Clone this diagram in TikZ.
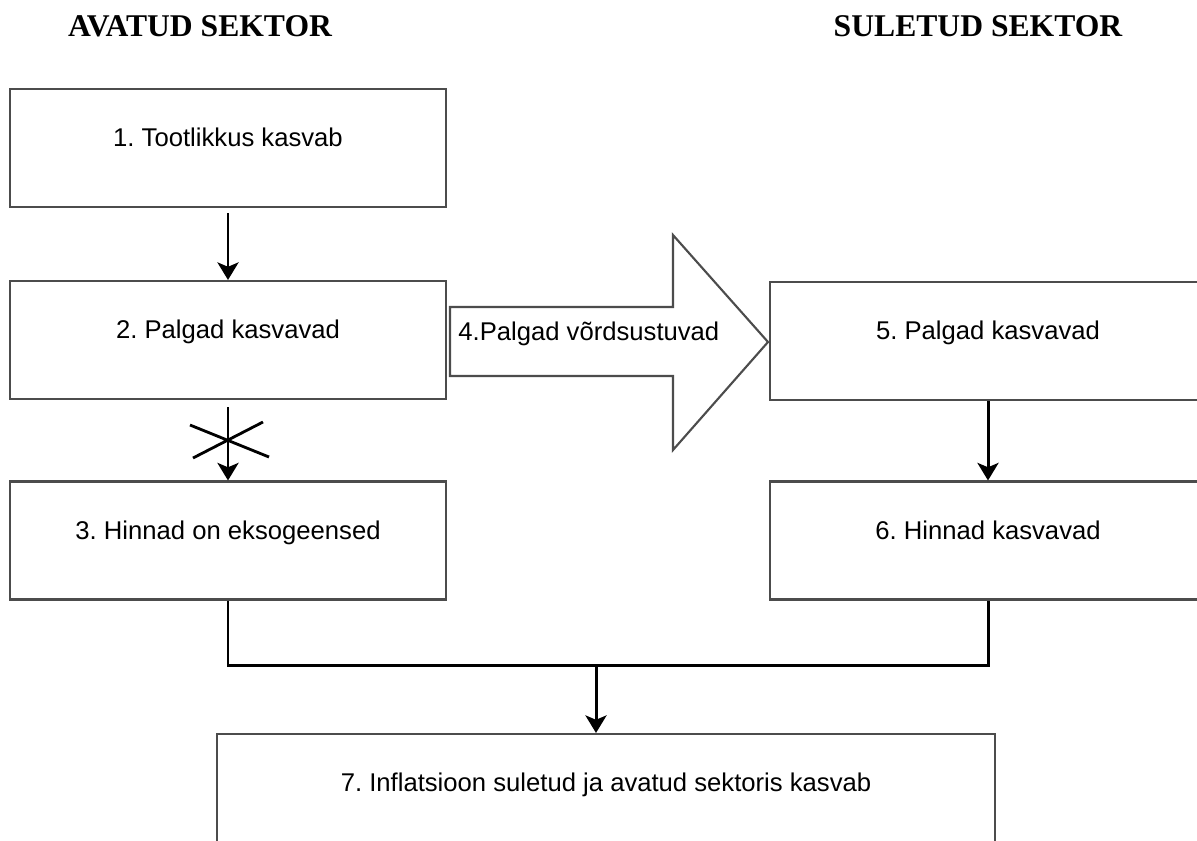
\documentclass[tikz,border=0pt]{standalone}
\usepackage{fontspec}
\setmainfont{Liberation Serif}
\setsansfont{Liberation Sans}
\usetikzlibrary{arrows.meta}
\frenchspacing

\tikzset{
  kast/.style={draw=black!70, line width=1.2pt, minimum width=8.72cm, minimum height=2.36cm,
    font=\sffamily\fontsize{14.6}{17}\selectfont, text height=10pt, text depth=11.5pt},
  nool/.style={draw=black, line width=1.7pt, -{Stealth[length=10pt,width=12pt,inset=2.5pt]}},
  joon/.style={draw=black, line width=1.7pt},
  pealkiri/.style={font=\bfseries\fontsize{18}{21}\selectfont}
}

\begin{document}
\begin{tikzpicture}[x=0.02cm, y=-0.02cm]

\clip (0,0) rectangle (1197,840);
\fill[white] (0,0) rectangle (1197,840);

% Pealkirjad
\node[pealkiri] (avatud) at (200,26) {AVATUD SEKTOR};
\node[pealkiri] (suletud) at (978,26) {SULETUD SEKTOR};

% Avatud sektor
\node[kast] (tootlikkus) at (228,148) {1. Tootlikkus kasvab};
\node[kast] (palgad) at (228,340) {2. Palgad kasvavad};
\node[kast] (hinnad) at (228,540.5) {3. Hinnad on eksogeensed};

% Suletud sektor
\node[kast] (palgadS) at (988,341) {5. Palgad kasvavad};
\node[kast] (hinnadS) at (988,540.5) {6. Hinnad kasvavad};

% Tulemus
\node[kast, minimum width=15.56cm] (inflatsioon) at (606,793) {7. Inflatsioon suletud ja avatud sektoris kasvab};

% Suur nool
\draw[draw=black!70, line width=1.2pt, fill=white]
  (450,307) -- (673,307) -- (673,235) -- (768,342) -- (673,450) -- (673,376) -- (450,376) -- cycle;
\node[anchor=west, inner sep=0pt, font=\sffamily\fontsize{14.6}{17}\selectfont] (vordsus) at (458,334) {4.Palgad võrdsustuvad};

% Nooled
\draw[nool, shorten <=3pt] (tootlikkus) -- (palgad);
\draw[nool, shorten <=4pt] (palgad) -- (hinnad);
\draw[nool] (palgadS) -- (hinnadS);

% Rist
\coordinate (rist) at (230,440);
\draw[joon, line width=1.6pt] (190,425) -- (269,457) (193,458) -- (263,422);

% Ühendus
\coordinate (jaotus) at (596,665);
\draw[joon] (hinnad.south) |- (jaotus) -| (hinnadS.south);
\draw[nool] (jaotus) -- (jaotus |- inflatsioon.north);

\end{tikzpicture}
\end{document}
